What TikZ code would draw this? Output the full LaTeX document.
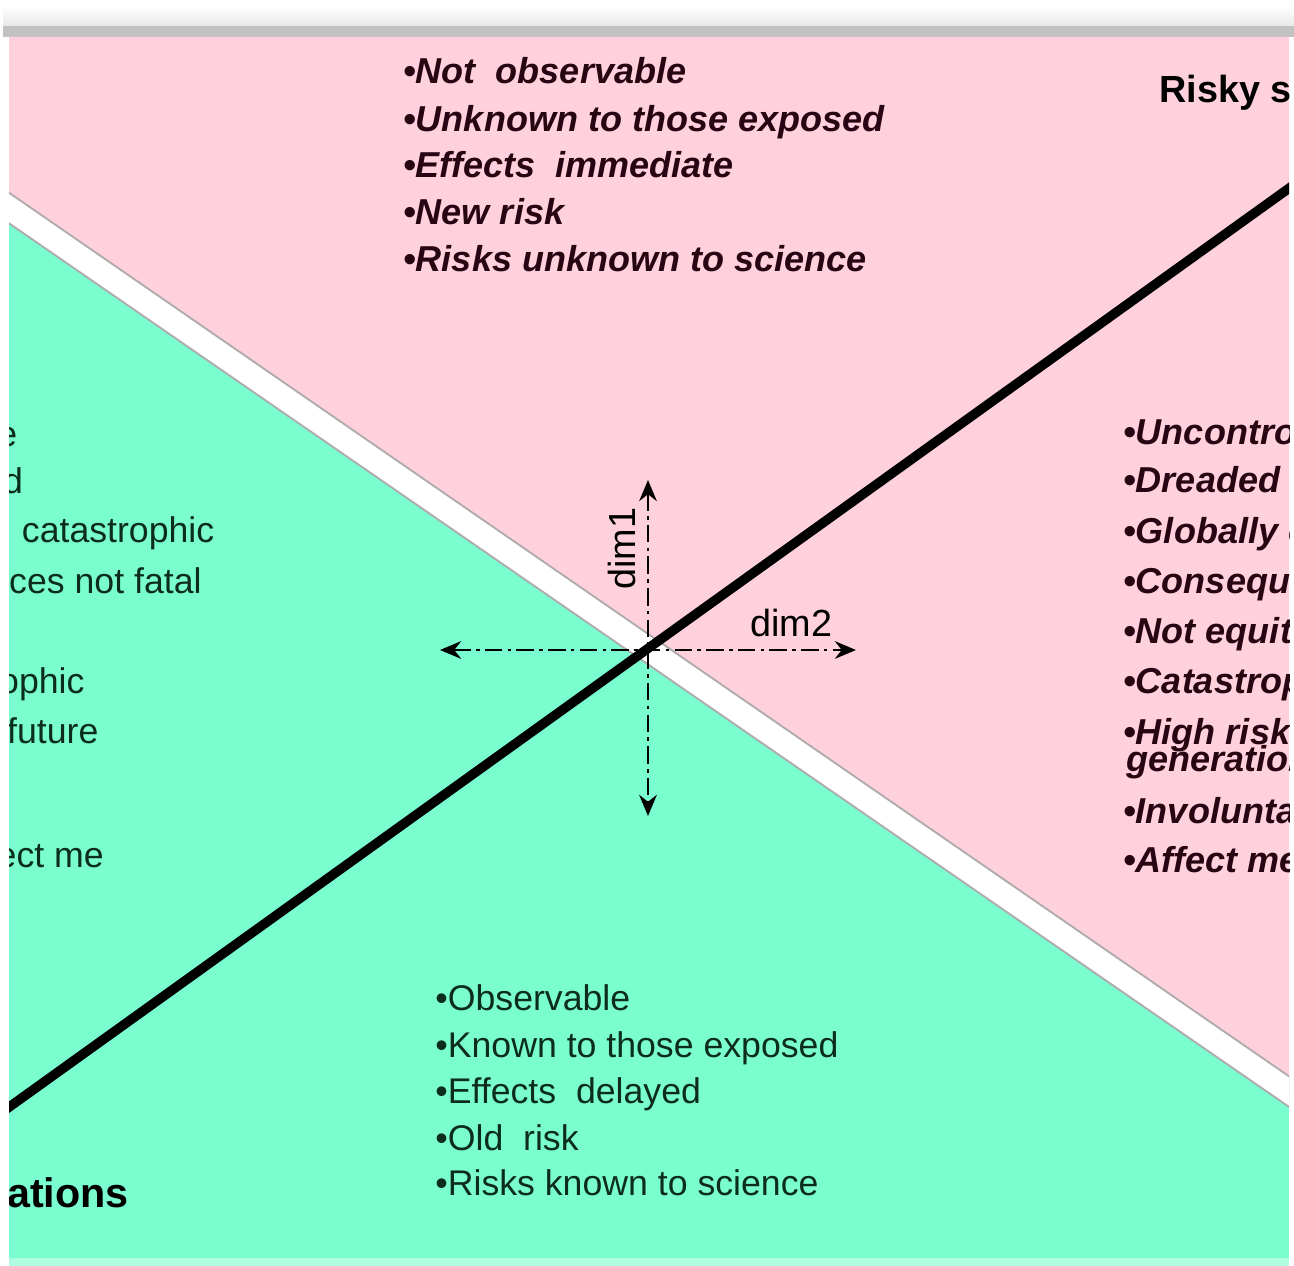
\documentclass[tikz,border=0pt]{standalone}
\usepackage{fontspec}
\setmainfont{Liberation Sans}
\usetikzlibrary{arrows.meta}
\definecolor{riskpink}{RGB}{255,209,221}
\definecolor{safegreen}{RGB}{122,254,207}
\definecolor{greentext}{RGB}{12,45,30}
\definecolor{pinktext}{RGB}{40,5,18}
\definecolor{bandedge}{RGB}{175,170,172}
\begin{document}
\begin{tikzpicture}[x=0.02cm,y=-0.02cm,
  itemr/.style={anchor=base west, inner sep=0pt, font=\fontsize{20.5}{24}\selectfont\bfseries\itshape, text=pinktext},
  itemg/.style={anchor=base west, inner sep=0pt, font=\fontsize{20.3}{24}\selectfont, text=greentext},
  headtxt/.style={inner sep=0pt, font=\fontsize{21.5}{26}\selectfont\bfseries, text=black},
  dimlabel/.style={anchor=base west, inner sep=0pt, font=\fontsize{21.5}{26}\selectfont, text=black},
  dimarrow/.style={line width=1.6pt, dash pattern=on 10pt off 3pt on 2pt off 3pt,
    {Stealth[length=12pt,width=10pt]}-{Stealth[length=12pt,width=10pt]}},
]
\useasboundingbox (0,0) rectangle (1294,1266);
% top shadow strip and bottom edge
\shade[top color=white, bottom color=gray!18] (3,6) rectangle (1294,26);
\fill[gray!48] (3,26) rectangle (1294,37);
\fill[safegreen!60!white] (9,1258) rectangle (1289,1266);
\begin{scope}
\clip (9,37) rectangle (1289,1258);
\fill[safegreen] (9,37) rectangle (1289,1258);
\fill[riskpink] (9,37) -- (1289,37) -- (1289,1092) -- (9,208) -- cycle;
% white separating band
\coordinate (bandA) at (-20,188);
\coordinate (bandB) at (1320,1113);
\draw[bandedge, line width=0.54cm] (bandA) -- (bandB);
\draw[white, line width=0.46cm] (bandA) -- (bandB);
% dimension arrows
\coordinate (ctr) at (648,650);
\coordinate (dimL) at (440,650);
\coordinate (dimR) at (856,650);
\coordinate (dimT) at (648,480);
\coordinate (dimB) at (648,816);
\draw[dimarrow] (dimL) -- (dimR);
\draw[dimarrow] (dimT) -- (dimB);
% thick black line
\coordinate (lineA) at (-20,1128);
\coordinate (lineB) at (1320,166);
\draw[black, line width=0.19cm] (lineA) -- (lineB);
% top list
\node[itemr] (t1) at (403,84)  {•Not~~observable};
\node[itemr] (t2) at (403,132) {•Unknown to those exposed};
\node[itemr] (t3) at (403,178) {•Effects~~immediate};
\node[itemr] (t4) at (403,225) {•New risk};
\node[itemr] (t5) at (403,272) {•Risks unknown to science};
% right list
\node[itemr] (r1) at (1123,445) {•Uncontrollable};
\node[itemr] (r2) at (1123,493) {•Dreaded};
\node[itemr] (r3) at (1123,543) {•Globally catastrophic};
\node[itemr] (r4) at (1123,593) {•Consequences fatal};
\node[itemr] (r5) at (1123,643) {•Not equitable};
\node[itemr] (r6) at (1123,693) {•Catastrophic};
\node[itemr] (r7) at (1123,744) {•High risk to future};
\node[itemr] (r7b) at (1126,771) {generations};
\node[itemr] (r8) at (1123,823) {•Involuntary};
\node[itemr] (r9) at (1123,872) {•Affect me};
% bottom list
\node[itemg] (b1) at (435,1010) {•Observable};
\node[itemg] (b2) at (435,1057) {•Known to those exposed};
\node[itemg] (b3) at (435,1103) {•Effects~~delayed};
\node[itemg] (b4) at (435,1150) {•Old~~risk};
\node[itemg] (b5) at (435,1195) {•Risks known to science};
% left list (cut by the frame)
\node[itemg] (l1) at (-186,447) {•Controllable};
\node[itemg] (l2) at (-186,494) {•Not dreaded};
\node[itemg] (l3) at (-197,542) {•Not globally~~catastrophic};
\node[itemg] (l4) at (-186,593) {•Consequences not fatal};
\node[itemg] (l6) at (-186,693) {•Not catastrophic};
\node[itemg] (l7) at (-186,743) {•Low risk to future};
\node[itemg] (l9) at (-186,867) {•Doesn't affect me};
% headings
\node[headtxt, anchor=base west] (risky) at (1159,103) {Risky situations};
\node[headtxt, anchor=base east, font=\fontsize{23.5}{28}\selectfont\bfseries] (safe) at (129,1207) {situations};
% dimension labels
\node[dimlabel, rotate=90] (d1) at (635,590) {dim1};
\node[dimlabel] (d2) at (750,636) {dim2};
\end{scope}
\end{tikzpicture}
\end{document}
